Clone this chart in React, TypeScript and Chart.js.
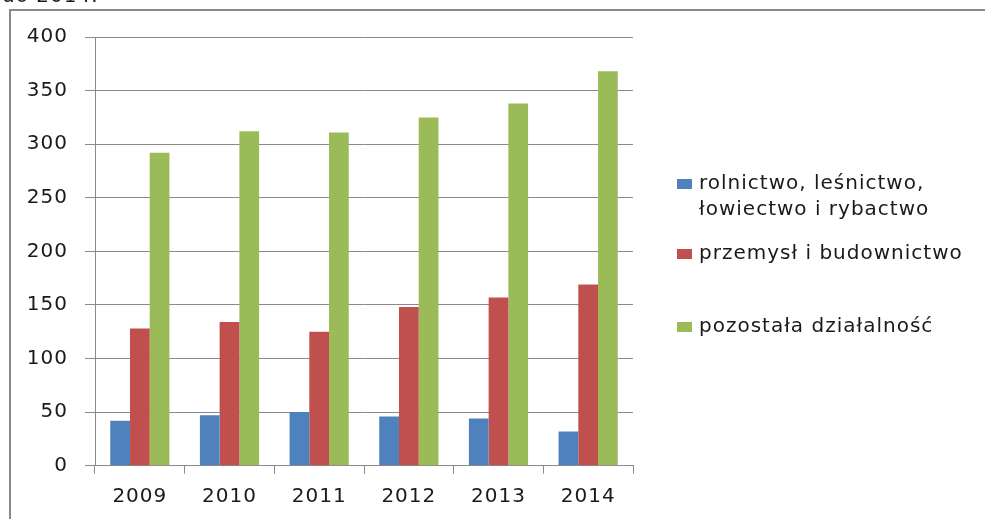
import React, { useEffect, useRef } from "react";
import { Chart, registerables } from "chart.js";

Chart.register(...registerables);

const categories = ["2009", "2010", "2011", "2012", "2013", "2014"];
const seriesNames = [
  ["rolnictwo, leśnictwo,", "łowiectwo i rybactwo"],
  ["przemysł i budownictwo"],
  ["pozostała działalność"],
];
const rolnictwo = [42, 47, 50, 46, 44, 32];
const przemysl = [128, 134, 125, 148, 157, 169];
const pozostala = [292, 312, 311, 325, 338, 368];
const colors = ["#4F81BD", "#C0504D", "#9BBB59"];
const yTicks = [0, 50, 100, 150, 200, 250, 300, 350, 400];

const FONT = "'DejaVu Sans', Verdana, sans-serif";

const framePlugin = {
  id: "frame",
  beforeDraw(chart: any) {
    const ctx = chart.ctx;
    ctx.save();
    ctx.fillStyle = "#888";
    ctx.fillRect(9, 9, chart.width - 9, 2);
    ctx.fillRect(9, 9, 2, chart.height - 9);
    ctx.restore();
    (ctx as any).letterSpacing = "1px";
  },
};

const legendPlugin = {
  id: "customLegend",
  afterDraw(chart: any) {
    const ctx = chart.ctx;
    const x0 = 677;
    const textX = 699;
    const rows = [[184, 210], [254], [327]];
    ctx.save();
    (ctx as any).letterSpacing = "1px";
    ctx.font = `20px ${FONT}`;
    ctx.textBaseline = "middle";
    ctx.textAlign = "left";
    chart.data.datasets.forEach((ds: any, i: number) => {
      const lines: string[] = ds.legendLines;
      const ys = rows[i];
      ctx.fillStyle = ds.backgroundColor;
      ctx.fillRect(x0, ys[0] - 5, 15, 10);
      ctx.fillStyle = "#1a1a1a";
      lines.forEach((ln, j) => ctx.fillText(ln, textX, ys[j]));
    });
    ctx.restore();
  },
};

export default function App() {
  const ref = useRef<HTMLCanvasElement | null>(null);
  useEffect(() => {
    if (!ref.current) return;
    const grid = "#8a8a8a";
    const chart = new Chart(ref.current, {
      type: "bar",
      data: {
        labels: categories,
        datasets: [rolnictwo, przemysl, pozostala].map((d, i) => ({
          label: seriesNames[i].join(" "),
          legendLines: seriesNames[i],
          data: d,
          backgroundColor: colors[i],
          borderWidth: 0,
          categoryPercentage: 0.66,
          barPercentage: 1.0,
        })) as any,
      },
      options: {
        animation: false,
        responsive: false,
        maintainAspectRatio: false,
        layout: { padding: { left: 0, right: 352, top: 37, bottom: 0 } },
        plugins: {
          legend: { display: false },
          tooltip: { enabled: false },
          title: { display: false },
        },
        scales: {
          x: {
            offset: true,
            afterFit: (s: any) => {
              s.height = 53.3;
            },
            grid: {
              display: true,
              offset: true,
              drawOnChartArea: false,
              drawTicks: true,
              tickLength: 8,
              color: grid,
              lineWidth: 1,
            },
            border: { display: true, color: grid, width: 1 },
            ticks: {
              color: "#1a1a1a",
              font: { family: FONT, size: 20 },
              padding: 11,
              maxRotation: 0,
            },
          },
          y: {
            min: 0,
            max: 400,
            afterFit: (s: any) => {
              s.width = 95;
            },
            afterBuildTicks: (s: any) => {
              s.ticks = yTicks.map((v) => ({ value: v }));
            },
            grid: {
              color: grid,
              lineWidth: 1,
              drawTicks: true,
              tickLength: 10,
            },
            border: { display: true, color: grid, width: 1 },
            ticks: {
              color: "#1a1a1a",
              font: { family: FONT, size: 20 },
              padding: 17,
            },
          },
        },
      },
      plugins: [framePlugin, legendPlugin],
    } as any);
    return () => chart.destroy();
  }, []);

  return (
    <div
      style={{
        position: "absolute",
        left: 0,
        top: 0,
        width: 985,
        height: 519,
        overflow: "hidden",
        background: "#fff",
      }}
    >
      <canvas
        ref={ref}
        width={985}
        height={519}
        style={{ position: "absolute", left: 0, top: 0, width: 985, height: 519 }}
      />
      <div
        style={{
          position: "absolute",
          left: 2,
          top: -17,
          fontFamily: FONT,
          fontSize: 20,
          lineHeight: "24px",
          letterSpacing: "1px",
          color: "#1a1a1a",
          whiteSpace: "nowrap",
        }}
      >
        do 2014.
      </div>
    </div>
  );
}
